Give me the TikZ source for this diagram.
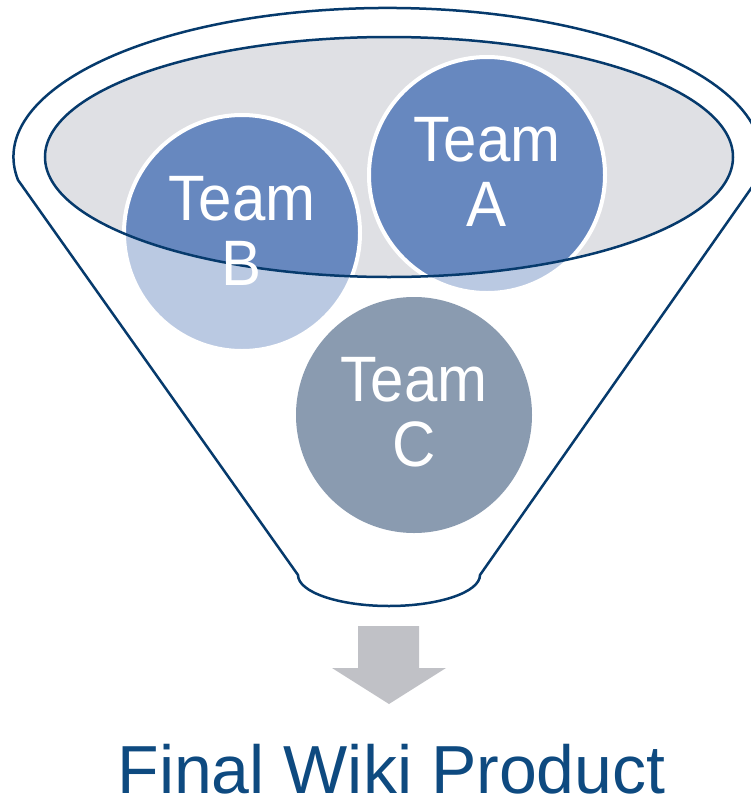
\documentclass[tikz,border=0pt]{standalone}
\usepackage{fontspec}
\setmainfont{Liberation Sans}
\definecolor{navy}{HTML}{063A6C}
\definecolor{rimgray}{HTML}{DFE0E4}
\definecolor{teamblue}{HTML}{6788BF}
\definecolor{teamgray}{HTML}{8A9BB0}
\definecolor{arrowgray}{HTML}{C0C1C6}
\definecolor{titleblue}{HTML}{0E4A80}
\begin{document}
\begin{tikzpicture}[x=1pt,y=-1pt,
  funnelline/.style={draw=navy, line width=2.5pt},
  teamcircle/.style={circle, minimum size=236pt, inner sep=0pt},
  teamtext/.style={text=white, align=center, inner sep=0pt,
    yscale=1.07, transform shape,
    font=\fontsize{60}{61}\selectfont},
  titletext/.style={text=titleblue, inner sep=0pt, anchor=base,
    font=\fontsize{68}{80}\selectfont}]
\useasboundingbox (0,0) rectangle (751,798);
% funnel body
\path[funnelline, fill=white] (18,180)
  arc[start angle=171.1, end angle=368.9, x radius=374, y radius=149]
  -- (480,575)
  arc[start angle=0, end angle=180, x radius=91, y radius=31]
  -- cycle;
% funnel mouth
\fill[rimgray] (389,157) ellipse[x radius=344, y radius=120];
% team circles
\node[teamcircle, fill=teamblue, draw=white, line width=4pt] (A) at (487,175) {};
\node[teamcircle, fill=teamblue, draw=white, line width=4pt] (B) at (242,233) {};
\begin{scope}
  \clip (487,175) circle[radius=122] (242,233) circle[radius=122];
  \fill[white, opacity=0.55, even odd rule] (0,0) rectangle (751,798)
    (389,157) ellipse[x radius=344, y radius=120];
\end{scope}
\node[teamcircle, fill=teamgray] (C) at (414,415) {};
% mouth outline
\draw[funnelline] (389,157) ellipse[x radius=344, y radius=120];
% labels
\node[teamtext] (tA) at (487,172) {Team\\A};
\node[teamtext] (tB) at (242,231) {Team\\B};
\node[teamtext] (tC) at (414,412) {Team\\C};
% arrow
\fill[arrowgray] (358,626) -- (419,626) -- (419,668) -- (446,668)
  -- (389,704) -- (332,668) -- (358,668) -- cycle;
% title
\node[titletext] (title) at (391.5,793) {Final Wiki Product};
\end{tikzpicture}
\end{document}
